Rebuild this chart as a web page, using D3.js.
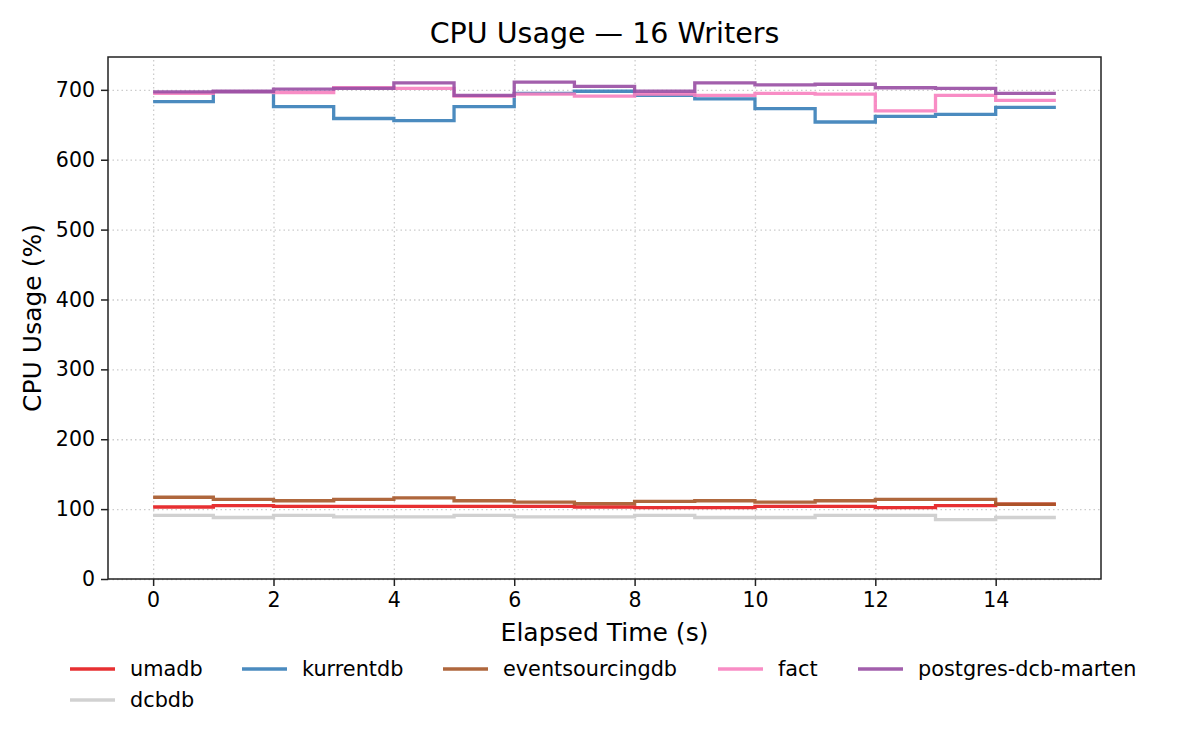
<!DOCTYPE html>
<html>
<head>
<meta charset="utf-8">
<script src="https://cdn.jsdelivr.net/npm/d3@7"></script>
<style>
  body { margin: 0; background: #fff; }
  text { font-family: "DejaVu Sans", sans-serif; fill: #000; }
  .grid line { stroke: #cccccc; stroke-dasharray: 1.5 3; stroke-width: 1.3; }
  .grid path { display: none; }
</style>
</head>
<body>
<div id="wrapper"></div>
<script>
// 1. Data
const seconds = [0, 1, 2, 3, 4, 5, 6, 7, 8, 9, 10, 11, 12, 13, 14, 15]
const seriesNames = ["umadb", "kurrentdb", "eventsourcingdb", "fact", "postgres-dcb-marten", "dcbdb"]
const umadb = [103, 105, 104, 104, 104, 104, 104, 103, 102, 102, 104, 104, 102, 105, 107, 107]
const kurrentdb = [683, 697, 676, 659, 656, 676, 695, 698, 692, 687, 673, 654, 662, 665, 675, 675]
const eventsourcingdb = [117, 114, 112, 114, 116, 112, 110, 108, 111, 112, 110, 112, 114, 114, 107, 107]
const fact = [695, 697, 696, 703, 702, 691, 694, 691, 694, 692, 695, 694, 670, 692, 685, 685]
const postgresDcbMarten = [697, 698, 701, 702, 710, 692, 711, 705, 698, 710, 707, 708, 703, 702, 695, 695]
const dcbdb = [91, 88, 91, 89, 89, 91, 89, 89, 91, 88, 88, 91, 91, 85, 88, 88]
const xTicks = [0, 2, 4, 6, 8, 10, 12, 14]
const yTicks = [0, 100, 200, 300, 400, 500, 600, 700]

const seriesValues = [umadb, kurrentdb, eventsourcingdb, fact, postgresDcbMarten, dcbdb]
const colors = ["#e41a1c", "#377eb8", "#a65628", "#f781bf", "#984ea3", "#cccccc"]

// 2. Dimensions
let dimensions = {
  width: 1200,
  height: 750,
  margin: { top: 57, right: 99, bottom: 171, left: 108 },
}
dimensions.boundedWidth = dimensions.width - dimensions.margin.left - dimensions.margin.right
dimensions.boundedHeight = dimensions.height - dimensions.margin.top - dimensions.margin.bottom

// 3. Canvas
const wrapper = d3.select("#wrapper")
  .append("svg")
  .attr("width", dimensions.width)
  .attr("height", dimensions.height)

const bounds = wrapper.append("g")
  .attr("transform", `translate(${dimensions.margin.left},${dimensions.margin.top})`)

// 4. Scales
const xScale = d3.scaleLinear()
  .domain([-0.75, 15.75])
  .range([0, dimensions.boundedWidth])

const yScale = d3.scaleLinear()
  .domain([0, 747])
  .range([dimensions.boundedHeight, 0])

// grid
bounds.append("g")
  .attr("class", "grid")
  .attr("transform", `translate(0,${dimensions.boundedHeight})`)
  .call(d3.axisBottom(xScale).tickValues(xTicks).tickSize(-dimensions.boundedHeight).tickFormat(""))

bounds.append("g")
  .attr("class", "grid")
  .call(d3.axisLeft(yScale).tickValues(yTicks).tickSize(-dimensions.boundedWidth).tickFormat(""))

// 5. Lines
const lineGenerator = d3.line()
  .x((d, i) => xScale(seconds[i]))
  .y(d => yScale(d))
  .curve(d3.curveStepAfter)

seriesValues.forEach((values, i) => {
  bounds.append("path")
    .datum(values)
    .attr("d", lineGenerator)
    .attr("fill", "none")
    .attr("stroke", colors[i])
    .attr("stroke-opacity", 0.9)
    .attr("stroke-width", 3.3)
})

// 6. Axes
const xAxis = bounds.append("g")
  .attr("transform", `translate(0,${dimensions.boundedHeight})`)
  .call(d3.axisBottom(xScale).tickValues(xTicks).tickSize(7).tickPadding(6))

const yAxis = bounds.append("g")
  .call(d3.axisLeft(yScale).tickValues(yTicks).tickSize(7).tickPadding(6))

;[xAxis, yAxis].forEach(ax => {
  ax.select(".domain").remove()
  ax.selectAll(".tick line").attr("stroke", "#222").attr("stroke-width", 1.5)
  ax.selectAll(".tick text").style("font-size", "20.5px").style("font-family", "DejaVu Sans").attr("fill", "#000")
})

// frame
bounds.append("rect")
  .attr("width", dimensions.boundedWidth)
  .attr("height", dimensions.boundedHeight)
  .attr("fill", "none")
  .attr("stroke", "#222")
  .attr("stroke-width", 1.5)

// labels
wrapper.append("text")
  .attr("x", dimensions.margin.left + dimensions.boundedWidth / 2)
  .attr("y", 43)
  .attr("text-anchor", "middle")
  .style("font-size", "28.5px")
  .text("CPU Usage — 16 Writers")

wrapper.append("text")
  .attr("x", dimensions.margin.left + dimensions.boundedWidth / 2)
  .attr("y", 641)
  .attr("text-anchor", "middle")
  .style("font-size", "25px")
  .text("Elapsed Time (s)")

wrapper.append("text")
  .attr("transform", `translate(41,${dimensions.margin.top + dimensions.boundedHeight / 2}) rotate(-90)`)
  .attr("text-anchor", "middle")
  .style("font-size", "25px")
  .text("CPU Usage (%)")

// legend
const legendX = [70, 242, 443, 718, 858, 70]
const legendY = [669, 669, 669, 669, 669, 700]

seriesNames.forEach((name, i) => {
  wrapper.append("line")
    .attr("x1", legendX[i])
    .attr("x2", legendX[i] + 45)
    .attr("y1", legendY[i])
    .attr("y2", legendY[i])
    .attr("stroke", colors[i])
    .attr("stroke-opacity", 0.9)
    .attr("stroke-width", 3.3)

  wrapper.append("text")
    .attr("x", legendX[i] + 60)
    .attr("y", legendY[i] + 7)
    .style("font-size", "20.8px")
    .text(name)
})
</script>
</body>
</html>
